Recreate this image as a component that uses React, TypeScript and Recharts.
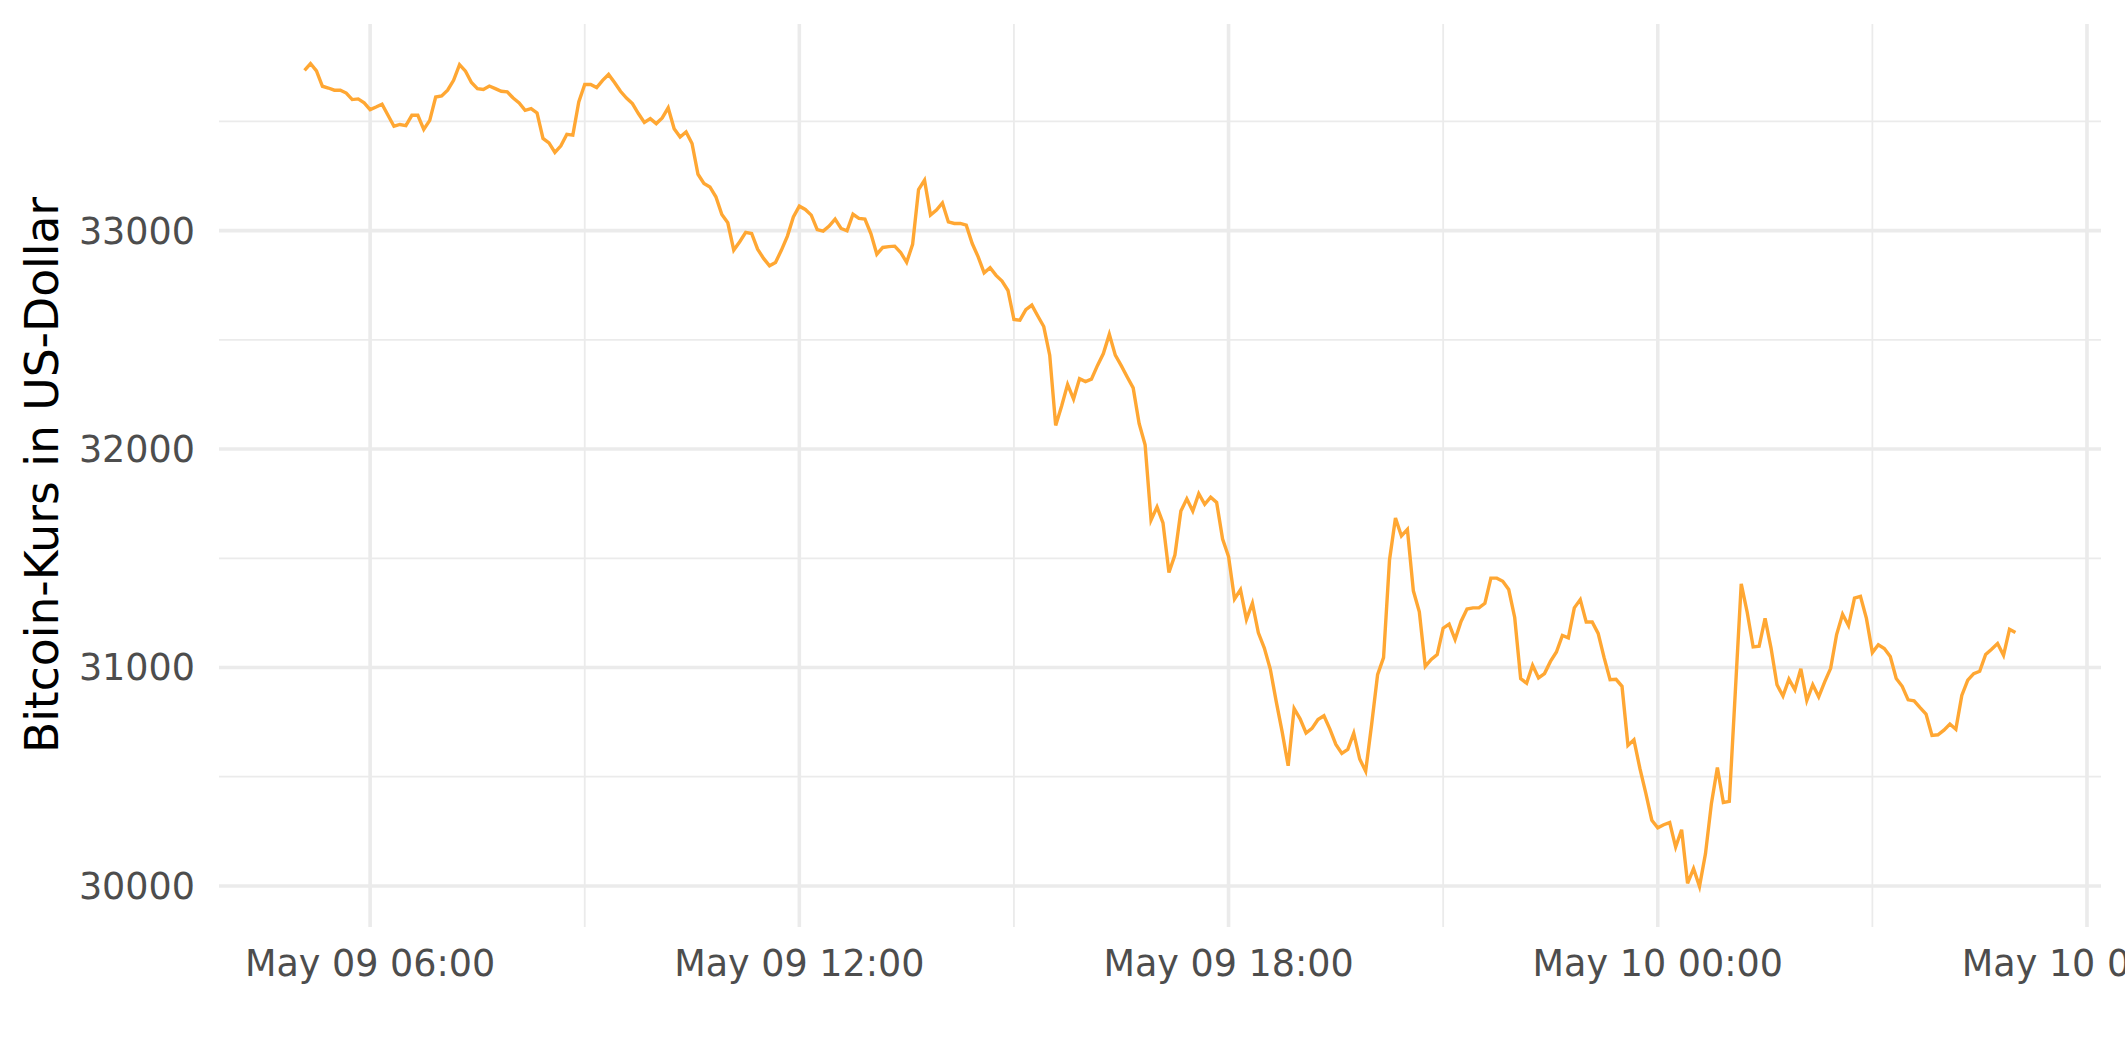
import { CartesianGrid, Line, LineChart, XAxis, YAxis } from "recharts";

// minutes after May 09 00:00, one price every 5 minutes
const startMinute = 305;
const stepMinutes = 5;

// 05:05 - 11:55
const pricesMorning = [
  33734, 33765, 33731, 33661, 33653, 33643, 33643, 33630, 33600, 33603, 33585,
  33554, 33566, 33579, 33528, 33478, 33486, 33481, 33528, 33528, 33463, 33505, 33612,
  33617, 33643, 33688, 33760, 33730, 33678, 33650, 33646, 33662, 33650, 33638, 33635,
  33607, 33585, 33551, 33559, 33539, 33422, 33402, 33358, 33388, 33441, 33437, 33589,
  33669, 33669, 33655, 33688, 33715, 33678, 33638, 33607, 33582, 33536, 33495, 33513,
  33490, 33516, 33562, 33467, 33429, 33452, 33399, 33258, 33216, 33200, 33155, 33074,
  33036, 32911, 32949, 32992, 32987, 32915, 32873, 32839, 32854, 32911, 32975, 33063,
];

// 12:00 - 17:55
const pricesAfternoon = [
  33112, 33097, 33071, 33005, 32998, 33021, 33053, 33010, 32999, 33075, 33056, 33053,
  32987, 32892, 32923, 32927, 32929, 32900, 32855, 32937, 33188, 33231, 33071, 33094,
  33127, 33040, 33033, 33033, 33025, 32941, 32880, 32807, 32830, 32795, 32769, 32726,
  32593, 32590, 32638, 32659, 32609, 32561, 32430, 32108, 32197, 32296, 32229, 32322,
  32309, 32320, 32382, 32437, 32526, 32430, 32382, 32330, 32280, 32117, 32020, 31675,
  31735, 31662, 31435, 31515, 31716, 31772, 31716, 31796, 31747, 31780, 31756, 31588,
];

// 18:00 - 23:55
const pricesEvening = [
  31508, 31314, 31356, 31220, 31294, 31159, 31089, 30993, 30844, 30704, 30550, 30812,
  30765, 30700, 30721, 30762, 30779, 30718, 30648, 30607, 30625, 30699, 30581, 30525,
  30739, 30967, 31045, 31492, 31684, 31602, 31632, 31351, 31255, 31005, 31037, 31059,
  31180, 31199, 31128, 31211, 31268, 31273, 31273, 31294, 31409, 31409, 31395, 31357,
  31229, 30949, 30928, 31010, 30952, 30972, 31028, 31071, 31147, 31136, 31273, 31311,
  31208, 31208, 31156, 31045, 30944, 30946, 30914, 30643, 30669, 30538, 30424, 30301,
];

// May 10, 00:00 - 05:00
const pricesNight = [
  30266, 30280, 30290, 30178, 30257, 30012, 30079, 29998, 30147, 30378, 30542, 30382,
  30387, 30885, 31383, 31253, 31094, 31097, 31225, 31089, 30921, 30869, 30947, 30898,
  30994, 30849, 30921, 30866, 30934, 30996, 31151, 31244, 31192, 31318, 31326, 31225,
  31068, 31104, 31087, 31050, 30950, 30914, 30852, 30847, 30816, 30787, 30689, 30692,
  30713, 30741, 30717, 30872, 30942, 30972, 30983, 31060, 31084, 31110, 31056, 31175,
  31160,
];

const xTicks = [360, 720, 1080, 1440, 1800];
const xTickLabels = ["May 09 06:00", "May 09 12:00", "May 09 18:00", "May 10 00:00", "May 10 06:00"];
const xMinorTicks = [540, 900, 1260, 1620];
const yTicks = [30000, 31000, 32000, 33000];
const yMinorTicks = [30500, 31500, 32500, 33500];

const prices = [...pricesMorning, ...pricesAfternoon, ...pricesEvening, ...pricesNight];
const data = prices.map((price, i) => ({ minute: startMinute + i * stepMinutes, price }));

const font = "DejaVu Sans, Verdana, sans-serif";
const gridColor = "#ebebeb";

function YTitle() {
  return (
    <text
      x={58}
      y={475}
      transform="rotate(-90, 58, 475)"
      textAnchor="middle"
      fill="#000000"
      fontSize={45.6}
      fontFamily={font}
    >
      Bitcoin-Kurs in US-Dollar
    </text>
  );
}

export default function App() {
  return (
    <div style={{ position: "absolute", left: 0, top: 0, width: 2125, height: 1062, overflow: "hidden", background: "#ffffff" }}>
      <LineChart width={2125} height={1062} data={data} margin={{ top: 24, right: 24, left: 0, bottom: 0 }}>
        <CartesianGrid stroke={gridColor} strokeWidth={1.8} horizontalValues={yMinorTicks} verticalValues={xMinorTicks} />
        <CartesianGrid stroke={gridColor} strokeWidth={3.6} horizontalValues={yTicks} verticalValues={xTicks} />
        <XAxis
          dataKey="minute"
          type="number"
          domain={[233.25, 1811.75]}
          ticks={xTicks}
          interval={0}
          tickFormatter={(v: number) => xTickLabels[xTicks.indexOf(v)]}
          axisLine={false}
          tickLine={false}
          tickSize={0}
          tickMargin={23}
          height={135}
          tick={{ fill: "#4d4d4d", fontSize: 36.5, fontFamily: font }}
          allowDataOverflow
        />
        <YAxis
          type="number"
          domain={[29812, 33946]}
          ticks={yTicks}
          interval={0}
          axisLine={false}
          tickLine={false}
          tickSize={0}
          tickMargin={24}
          width={219}
          tick={{ fill: "#4d4d4d", fontSize: 36.5, fontFamily: font }}
          label={{ content: () => <YTitle /> }}
          allowDataOverflow
        />
        <Line
          type="linear"
          dataKey="price"
          stroke="#ffa733"
          strokeWidth={3.4}
          dot={false}
          activeDot={false}
          isAnimationActive={false}
        />
      </LineChart>
    </div>
  );
}
